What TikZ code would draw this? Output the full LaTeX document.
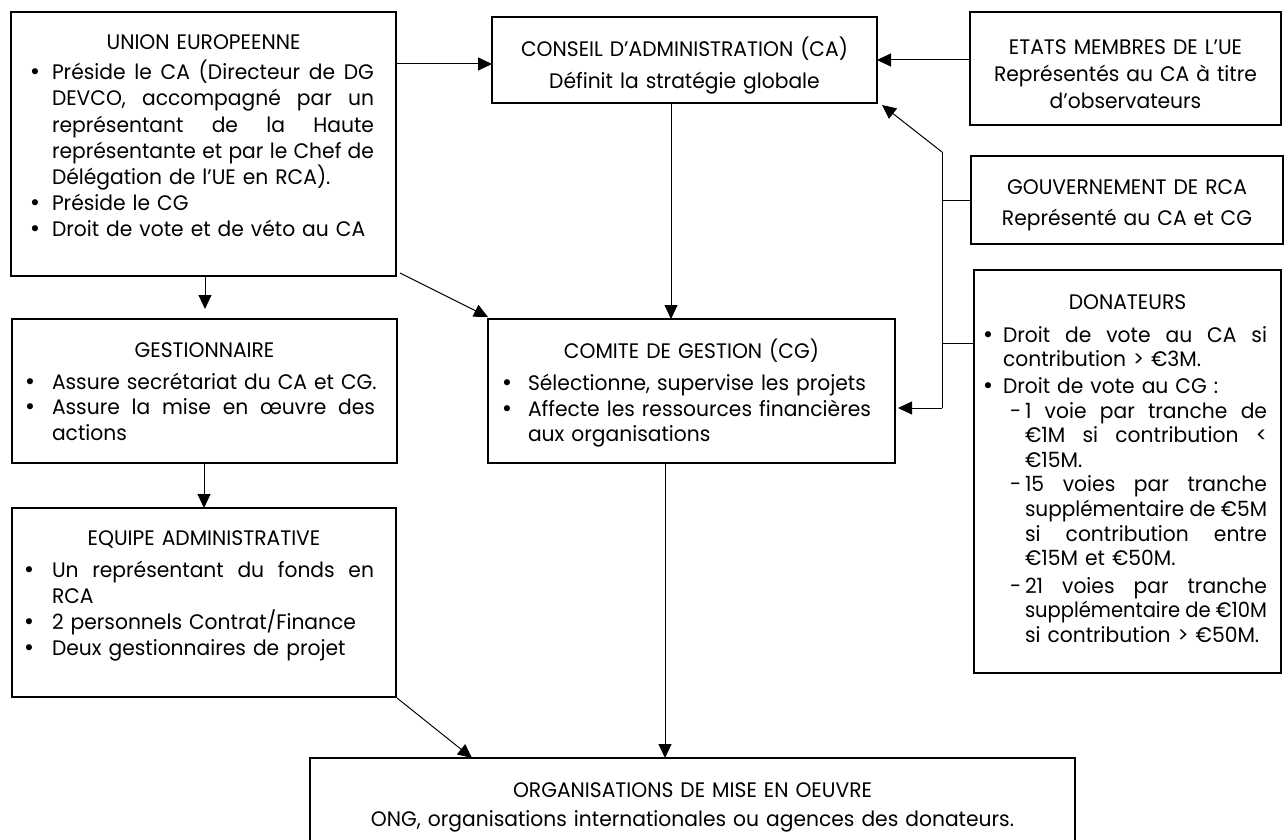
\documentclass[tikz,border=0pt]{standalone}
\usepackage{fontspec}
\usepackage{graphicx}
\setmainfont{Poppins}[FakeStretch=0.965]
\newfontfamily\bulfont{DejaVu Sans}
\usetikzlibrary{arrows.meta}
\newcommand\xs{\rule{0pt}{18pt}}
\newcommand\xbul[1]{\makebox[0pt][l]{\hspace*{#1}\makebox[0pt][c]{\bulfont •}}}
\newcommand\xdash[1]{\makebox[0pt][l]{\hspace*{#1}-}}
\newsavebox\xjb
\newcommand\xjbox[2]{{\spaceskip=0pt\xspaceskip=0pt\relax
  \sbox\xjb{#2}\ifdim\wd\xjb>#1\relax\resizebox{#1}{\height}{\usebox\xjb}\else\makebox[#1][s]{#2}\fi}}
\newcommand\xjus[3]{\hspace*{#1}\xjbox{#2}{#3}}
\newcommand\xnat[2]{\hspace*{#1}#2}
\newcommand\xctr[2]{\makebox[#1][c]{#2}}
\begin{document}
\begin{tikzpicture}[x=1pt,y=-1pt,
  box/.style={draw, line width=2.4pt, inner sep=0pt, outer sep=0pt, anchor=north west},
  txt/.style={inner sep=0pt, outer sep=0pt, anchor=north west, align=left},
  ctxt/.style={inner sep=0pt, outer sep=0pt, anchor=north, align=center},
  conn/.style={line width=1pt},
  arr/.style={line width=1pt, -{Triangle[length=14pt,width=13pt]}}]
\path[use as bounding box] (0,0) rectangle (1287,840);
\clip (0,0) rectangle (1287,840);

% boxes
\node[box, minimum width=385pt, minimum height=264pt] (ue) at (11,12) {};
\node[box, minimum width=385pt, minimum height=86pt] (ca) at (492,17) {};
\node[box, minimum width=311pt, minimum height=113pt] (etats) at (970,12) {};
\node[box, minimum width=312pt, minimum height=88pt] (gouv) at (971,156) {};
\node[box, minimum width=307pt, minimum height=403pt] (don) at (974,270) {};
\node[box, minimum width=407pt, minimum height=144pt] (cg) at (488,319) {};
\node[box, minimum width=385pt, minimum height=144pt] (gest) at (12,319) {};
\node[box, minimum width=384pt, minimum height=189pt] (equ) at (12,508) {};
\node[box, minimum width=765pt, minimum height=120pt] (org) at (310,758) {};

% texts
\node[txt, text width=385pt, font=\fontsize{21}{26.2}\selectfont] (ue-t) at (11,31.8) {%
\xs\xctr{385pt}{UNION EUROPEENNE}\\[3.8pt]
\xbul{24pt}\xjus{41pt}{322pt}{Préside le CA (Directeur de DG}\\
\xjus{41pt}{322pt}{DEVCO, accompagné par un}\\
\xjus{41pt}{322pt}{représentant de la Haute}\\
\xjus{41pt}{322pt}{représentante et par le Chef de}\\
\xnat{41pt}{Délégation de l’UE en RCA).}\\
\xbul{24pt}\xnat{41pt}{Préside le CG}\\
\xbul{24pt}\xnat{41pt}{Droit de vote et de véto au CA}};

\node[txt, text width=385pt, font=\fontsize{21}{25.5}\selectfont] (gest-t) at (12,339.3) {%
\xs\xctr{385pt}{GESTIONNAIRE}\\[6.5pt]
\xbul{18pt}\xnat{40pt}{Assure secrétariat du CA et CG.}\\
\xbul{18pt}\xjus{40pt}{323pt}{Assure la mise en œuvre des}\\
\xnat{40pt}{actions}};

\node[txt, text width=384pt, font=\fontsize{21}{26}\selectfont] (equ-t) at (12,527.3) {%
\xs\xctr{384pt}{EQUIPE ADMINISTRATIVE}\\[6pt]
\xbul{17pt}\xjus{40pt}{322pt}{Un représentant du fonds en}\\
\xnat{40pt}{RCA}\\
\xbul{17pt}\xnat{40pt}{2 personnels Contrat/Finance}\\
\xbul{17pt}\xnat{40pt}{Deux gestionnaires de projet}};

\node[txt, text width=407pt, font=\fontsize{21}{25.5}\selectfont] (cg-t) at (488,339.3) {%
\xs\xctr{407pt}{COMITE DE GESTION (CG)}\\[6.5pt]
\xbul{19pt}\xnat{40pt}{Sélectionne, supervise les projets}\\
\xbul{19pt}\xnat{40pt}{Affecte les ressources financières}\\
\xnat{40pt}{aux organisations}};

\node[txt, text width=307pt, font=\fontsize{21}{24.6}\selectfont] (don-t) at (974,291.3) {%
\xs\xctr{307pt}{DONATEURS}\\[8.4pt]
\xbul{14pt}\xjus{29pt}{264pt}{Droit de vote au CA si}\\
\xnat{29pt}{contribution > €3M.}\\[2pt]
\xbul{14pt}\xnat{29pt}{Droit de vote au CG :}\\
\xdash{36pt}\xjus{51pt}{242pt}{1 voie par tranche de}\\
\xjus{51pt}{242pt}{€1M si contribution <}\\
\xnat{51pt}{€15M.}\\
\xdash{36pt}\xjus{51pt}{242pt}{15 voies par tranche}\\
\xjus{51pt}{242pt}{supplémentaire de €5M}\\
\xjus{51pt}{242pt}{si contribution entre}\\
\xnat{51pt}{€15M et €50M.}\\[3pt]
\xdash{36pt}\xjus{51pt}{242pt}{21 voies par tranche}\\
\xjus{51pt}{242pt}{supplémentaire de €10M}\\
\xnat{51pt}{si contribution > €50M.}};

\node[ctxt, text width=385pt, font=\fontsize{21}{32}\selectfont] (ca-t) at (684.5,37.3) {%
\xs CONSEIL D’ADMINISTRATION (CA)\\ Définit la stratégie globale};
\node[ctxt, text width=311pt, font=\fontsize{21}{27.5}\selectfont] (etats-t) at (1125.5,36.3) {%
\xs ETATS MEMBRES DE L’UE\\ Représentés au CA à titre\\[-1pt] d’observateurs};
\node[ctxt, text width=312pt, font=\fontsize{21}{31}\selectfont] (gouv-t) at (1127,176.3) {%
\xs GOUVERNEMENT DE RCA\\ Représenté au CA et CG};
\node[ctxt, text width=765pt, font=\fontsize{21}{29}\selectfont] (org-t) at (692.5,779) {%
\xs ORGANISATIONS DE MISE EN OEUVRE\\ ONG, organisations internationales ou agences des donateurs.};

% helper coordinates
\coordinate (busT) at (942,152);
\coordinate (busB) at (942,408);
\coordinate (donJ) at (942,343);
\coordinate (cgR) at ([xshift=3pt]cg.east);
\coordinate (xca) at (671,0);
\coordinate (xue) at (205,0);
\coordinate (xge) at (204,0);
\coordinate (xeo) at (472,0);
\coordinate (xco) at (665,0);
\coordinate (yue) at (0,64);

% connectors
\draw[arr] (ue.east |- yue) -- (ca.west |- yue);
\draw[arr] (etats.west |- ca.east) -- (ca.east);
\draw[arr] (ca.south -| xca) -- (cg.north -| xca);
\draw[conn] (busT) -- (busB);
\draw[conn] (gouv.west) -- (gouv.west -| busT);
\draw[conn] (donJ -| don.west) -- (donJ);
\draw[arr] (busT) -- ([shift={(5,2)}]ca.south east);
\draw[arr] (busB) -- (busB -| cgR);
\draw[arr, shorten >=10pt] (ue.south -| xue) -- (gest.north -| xue);
\draw[arr] (gest.south -| xge) -- (equ.north -| xge);
\draw[arr] ([shift={(4,-3)}]ue.south east) -- ([shift={(0,-2)}]cg.north west);
\draw[arr] ([shift={(1,1)}]equ.south east) -- (org.north -| xeo);
\draw[arr] (cg.south -| xco) -- (org.north -| xco);
\end{tikzpicture}
\end{document}
